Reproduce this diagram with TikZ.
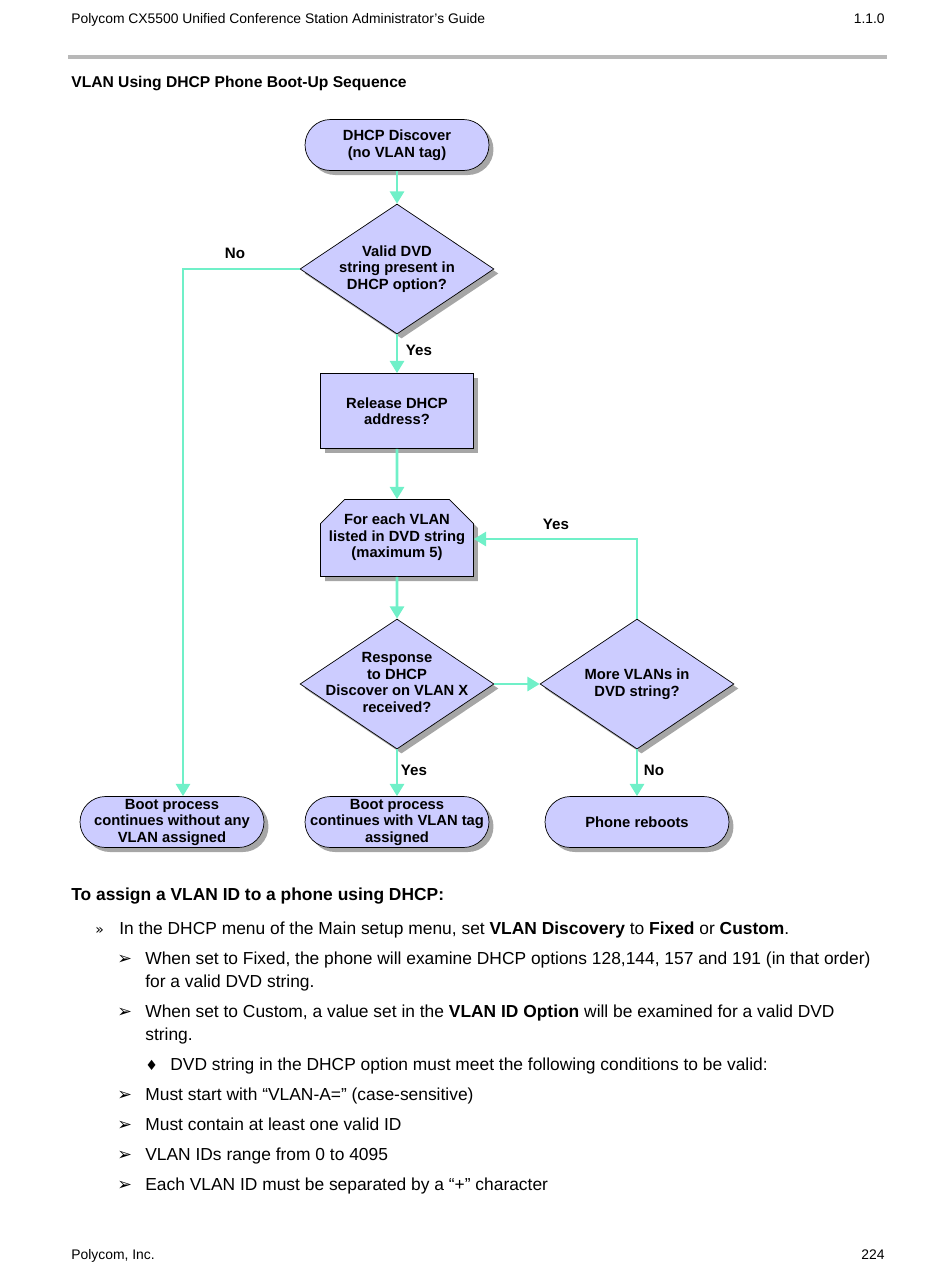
\documentclass[tikz,border=0pt]{standalone}
\usepackage{fontspec}
\setmainfont{Liberation Sans}
\newfontfamily\symfont{DejaVu Sans}
\usetikzlibrary{positioning,shapes.geometric,shapes.misc,shadows,arrows.meta}
\definecolor{boxfill}{RGB}{204,204,255}
\definecolor{flowgreen}{RGB}{112,240,200}
\definecolor{rulegray}{RGB}{184,184,184}

\begin{document}
\begin{tikzpicture}[x=0.02cm, y=-0.02cm,
    shade/.style={drop shadow={shadow xshift=0.09cm, shadow yshift=-0.09cm, fill=black!35, opacity=1}},
    chart/.style={font=\bfseries\fontsize{8.4}{9.4}\selectfont, align=center},
    base/.style={draw=black, thin, fill=boxfill, shade, chart, inner sep=0pt},
    term/.style={base, rectangle, rounded corners=0.51cm, minimum width=3.68cm, minimum height=1.02cm},
    test/.style={base, diamond, aspect=1.5, minimum width=3.88cm, minimum height=2.6cm},
    proc/.style={base, rectangle, minimum width=3.06cm, minimum height=1.5cm},
    loopbox/.style={base, chamfered rectangle, chamfered rectangle corners={north west, north east},
                    chamfered rectangle xsep=0.24cm, chamfered rectangle ysep=0.24cm,
                    minimum height=1.54cm},
    link/.style={draw=flowgreen, line width=1.6pt, -{Triangle[length=7pt, width=8pt]}},
    lbl/.style={font=\bfseries\fontsize{8.6}{10}\selectfont, inner sep=0pt},
    body/.style={anchor=mid west, inner sep=0pt, font=\fontsize{9.9}{12}\selectfont},
    sym/.style={anchor=mid west, inner sep=0pt, font=\symfont\fontsize{10}{10}\selectfont}]
  \useasboundingbox (0, 0) rectangle (950, 1272);

  % page header
  \node (guide) [anchor=mid west, inner sep=0pt, font=\fontsize{7.9}{10}\selectfont] at (71, 19)
        {Polycom CX5500 Unified Conference Station Administrator’s Guide};
  \node (ver) [anchor=mid east, inner sep=0pt, font=\fontsize{7.9}{10}\selectfont] at (885, 19) {1.1.0};
  \fill [rulegray] (68, 55) rectangle (887, 59);
  \node (title) [anchor=mid west, inner sep=0pt, font=\bfseries\fontsize{8.9}{11}\selectfont] at (71, 83)
        {VLAN Using DHCP Phone Boot-Up Sequence};

  % flowchart
  \node (disc) [term] at (397, 145) {DHCP Discover\\(no VLAN tag)};
  \node (valid) [test, label={[chart]center:Valid DVD\\string present in\\DHCP option?}]
        at (397, 269) {};
  \node (rel) [proc] at (397, 411) {Release DHCP\\address?};
  \node (each) [loopbox] at (397, 538)
        {\makebox[2.58cm]{\begin{tabular}{@{}c@{}}For each VLAN\\listed in DVD string\\(maximum 5)\end{tabular}}};
  \node (resp) [test, label={[chart, yshift=0.03cm]center:Response\\to DHCP\\Discover on VLAN X\\received?}]
        at (397, 684) {};
  \node (more) [test, label={[chart]center:More VLANs in\\DVD string?}]
        at (637, 684) {};
  \node (novlan) [term] at (172, 822) {Boot process\\continues without any\\VLAN assigned};
  \node (tag) [term] at (397, 822) {Boot process\\continues with VLAN tag\\assigned};
  \node (reboot) [term] at (637, 822) {Phone reboots};

  \coordinate (nocorner) at (183, 269);
  \coordinate (yescorner) at (637, 539);
  \draw [link] (disc) -- (valid);
  \draw [link] (valid) -- (rel);
  \draw [link] (valid.west) -- (nocorner) -- (nocorner |- novlan.north);
  \draw [link] (rel) -- (each);
  \draw [link] (each) -- (resp);
  \draw [link] (resp.east) -- (more.west);
  \draw [link] (resp) -- (tag);
  \draw [link] (more) -- (reboot);
  \draw [link] (more.north) -- (yescorner) -- (each.east |- yescorner);

  \node (yes1) [lbl] at (419, 350) {Yes};
  \node (no1) [lbl] at (235, 253) {No};
  \node (yes2) [lbl] at (556, 524) {Yes};
  \node (yes3) [lbl] at (414, 770) {Yes};
  \node (no2) [lbl] at (654, 770) {No};

  % procedure text
  \node (proc) [anchor=mid west, inner sep=0pt, font=\bfseries\fontsize{9.9}{12}\selectfont] at (71, 896)
        {To assign a VLAN ID to a phone using DHCP:};
  \node (s1) [sym, font=\symfont\fontsize{8}{10}\selectfont] at (95, 930) {»};
  \node (t1) [body] at (119, 930)
        {In the DHCP menu of the Main setup menu, set \textbf{VLAN Discovery} to \textbf{Fixed} or \textbf{Custom}.};
  \node (s2) [sym] at (117, 960) {➢};
  \node (t2) [body] at (145, 960)
        {When set to Fixed, the phone will examine DHCP options 128,144, 157 and 191 (in that order)};
  \node (t2b) [body] at (145, 983) {for a valid DVD string.};
  \node (s3) [sym] at (117, 1013) {➢};
  \node (t3) [body] at (145, 1013)
        {When set to Custom, a value set in the \textbf{VLAN ID Option} will be examined for a valid DVD};
  \node (t3b) [body] at (145, 1036) {string.};
  \node (s4) [sym, font=\symfont\fontsize{8}{10}\selectfont] at (145, 1066) {♦};
  \node (t4) [body] at (170, 1066)
        {DVD string in the DHCP option must meet the following conditions to be valid:};
  \node (s5) [sym] at (117, 1096) {➢};
  \node (t5) [body] at (145, 1096) {Must start with “VLAN-A=” (case-sensitive)};
  \node (s6) [sym] at (117, 1126) {➢};
  \node (t6) [body] at (145, 1126) {Must contain at least one valid ID};
  \node (s7) [sym] at (117, 1156) {➢};
  \node (t7) [body] at (145, 1156) {VLAN IDs range from 0 to 4095};
  \node (s8) [sym] at (117, 1186) {➢};
  \node (t8) [body] at (145, 1186) {Each VLAN ID must be separated by a “+” character};

  % page footer
  \node (inc) [anchor=mid west, inner sep=0pt, font=\fontsize{7.9}{10}\selectfont] at (71, 1255) {Polycom, Inc.};
  \node (page) [anchor=mid east, inner sep=0pt, font=\fontsize{7.9}{10}\selectfont] at (885, 1255) {224};
\end{tikzpicture}
\end{document}
